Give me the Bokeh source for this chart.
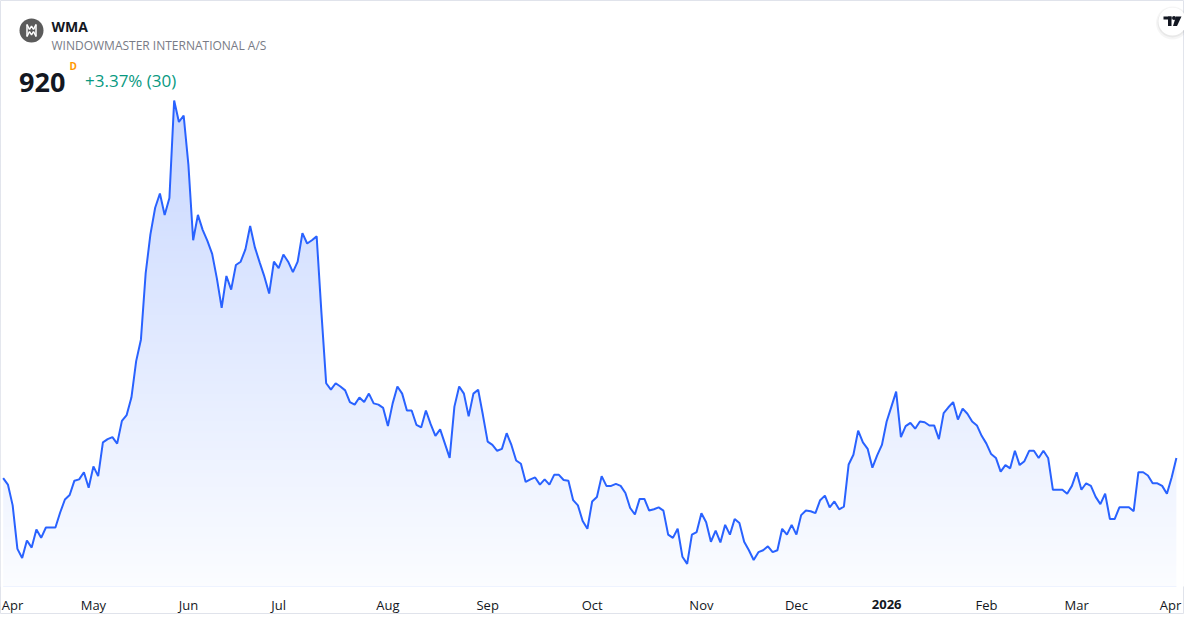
import numpy as np
from bokeh.plotting import figure
from bokeh.models import Range1d
from bokeh.core.properties import value
from bokeh.embed import file_html
from bokeh.resources import INLINE

# ---------------- data ----------------
symbol = "WMA"
company = "WINDOWMASTER INTERNATIONAL A/S"
last_price = "920"
interval_flag = "D"
change_text = "+3.37% (30)"

# daily closes, one per trading session (Apr 2025 -> Apr 2026)
close = [
    889, 879, 847, 780, 766, 793, 782, 810, 797, 813,
    813, 813, 836, 856, 863, 885, 887, 898, 874, 907,
    892, 944, 949, 952, 942, 977, 986, 1013, 1069, 1102,
    1204, 1264, 1305, 1327, 1294, 1320, 1470, 1437, 1447, 1371,
    1255, 1294, 1271, 1254, 1234, 1196, 1151, 1200, 1179, 1217,
    1222, 1241, 1277, 1244, 1221, 1199, 1173, 1222, 1212, 1233,
    1222, 1206, 1222, 1266, 1250, 1255, 1261, 1144, 1035, 1025,
    1035, 1030, 1024, 1006, 1002, 1013, 1006, 1019, 1004, 1002,
    997, 969, 1004, 1030, 1019, 993, 993, 971, 967, 993,
    972, 954, 964, 942, 920, 999, 1030, 1019, 984, 1019,
    1025, 986, 945, 940, 931, 934, 958, 940, 916, 911,
    883, 887, 890, 879, 887, 879, 894, 894, 886, 885,
    855, 847, 823, 811, 853, 860, 892, 877, 877, 880,
    877, 866, 843, 833, 857, 857, 839, 841, 844, 839,
    802, 797, 811, 768, 757, 802, 806, 835, 821, 791,
    808, 790, 817, 802, 826, 820, 791, 778, 763, 775,
    778, 784, 775, 778, 811, 802, 817, 802, 832, 839,
    838, 835, 855, 862, 844, 853, 841, 845, 910, 925,
    962, 944, 934, 905, 924, 940, 976, 999, 1022, 952,
    969, 974, 965, 976, 975, 970, 970, 949, 989, 998,
    1006, 979, 996, 988, 976, 970, 954, 942, 926, 920,
    899, 909, 904, 931, 909, 915, 931, 931, 920, 931,
    920, 871, 871, 871, 865, 877, 898, 871, 881, 877,
    860, 849, 865, 826, 826, 844, 844, 844, 838, 898,
    898, 893, 881, 881, 877, 865, 890, 920,
]

# time-scale labels and the first session of each month
month_labels = ["Apr", "May", "Jun", "Jul", "Aug", "Sep", "Oct",
                "Nov", "Dec", "2026", "Feb", "Mar", "Apr"]
month_label_session = [0, 19, 39, 58, 81, 102, 124, 147, 167, 186, 207, 226, 247]
year_labels = ["2026"]

# ---------------- layout ----------------
W, H = 1184, 614
LEFT_PAD = 2.66          # px from left edge to first session
LAST_PX = 1175.9         # px of last session
FILL_BOTTOM_PX = 586     # bottom of the price pane
Y_TOP = 1624.0           # price at the top edge
PRICE_PER_PX = 1.539
LABEL_HALF_W = 12        # keep time labels inside the edges

FONT = "Open Sans"
BLUE = "#2962ff"
TEXT = "#131722"

n = len(close)
sessions = list(range(n))
px_per = (LAST_PX - LEFT_PAD) / (n - 1)
x0 = -LEFT_PAD / px_per
x1 = x0 + W / px_per
Y_BOTTOM = Y_TOP - H * PRICE_PER_PX


def fx(px):
    return x0 + px / px_per


def fy(py):
    return Y_TOP - py * PRICE_PER_PX


p = figure(width=W, height=H,
           x_range=Range1d(x0, x1), y_range=Range1d(Y_BOTTOM, Y_TOP),
           output_backend="svg", toolbar_location=None,
           x_axis_location=None, y_axis_location=None, min_border=0)
p.background_fill_color = "white"
p.border_fill_color = "white"
p.outline_line_color = "#e0e3eb"
p.outline_line_width = 1
p.xgrid.visible = False
p.ygrid.visible = False

# ---------------- area with vertical fade ----------------
A_TOP, A_BOT = 0.30, 0.02
pane_bottom_price = fy(FILL_BOTTOM_PX)
p.varea(x=sessions, y1=pane_bottom_price, y2=close, fill_color=BLUE, fill_alpha=A_TOP)

# white veil whose opacity grows downwards -> gradient fill
rows = FILL_BOTTOM_PX
img = np.zeros((rows, 2), dtype=np.uint32)
view = img.view(dtype=np.uint8).reshape((rows, 2, 4))
for r in range(rows):
    py = FILL_BOTTOM_PX - (r + 0.5)          # row 0 is at the bottom
    a = A_TOP + (A_BOT - A_TOP) * py / FILL_BOTTOM_PX
    veil = 1.0 - a / A_TOP
    view[r, :, 0] = 255
    view[r, :, 1] = 255
    view[r, :, 2] = 255
    view[r, :, 3] = int(round(255 * veil))
p.image_rgba(image=[img], x=x0, y=pane_bottom_price, dw=x1 - x0, dh=Y_TOP - pane_bottom_price)

p.line(sessions, close, line_color=BLUE, line_width=2)

# ---------------- time scale ----------------
lo, hi = fx(LABEL_HALF_W), fx(W - LABEL_HALF_W - 2)
label_x = [min(max(s, lo), hi) for s in month_label_session]
p.text(x=label_x, y=[fy(604)] * len(month_labels), text=month_labels,
       text_font=value(FONT), text_font_size="13px",
       text_font_style=["bold" if lab in year_labels else "normal" for lab in month_labels],
       text_align="center", text_baseline="middle", text_color=TEXT)

# ---------------- header ----------------
# logo badge
p.scatter(x=[fx(31)], y=[fy(30)], size=24, marker="circle",
          fill_color="#5b5b5b", line_color=None)
mono_x = [[26.5, 26.5], [35.5, 35.5],
          [26.5, 29, 31, 33, 35.5], [26.5, 29, 31, 33, 35.5]]
mono_y = [[24, 36], [24, 36],
          [24, 29, 25.5, 29, 24], [36, 31, 34.5, 31, 36]]
p.multi_line(xs=[[fx(v) for v in xs] for xs in mono_x],
             ys=[[fy(v) for v in ys] for ys in mono_y],
             line_color="white", line_width=1.5)

p.text(x=[fx(51)], y=[fy(26)], text=[symbol], text_baseline="alphabetic",
       text_font=value(FONT), text_font_size="14px", text_font_style="bold",
       text_color=TEXT)
p.text(x=[fx(51)], y=[fy(44.5)], text=[company], text_baseline="alphabetic",
       text_font=value(FONT), text_font_size="12px", text_color="#787b86")
p.text(x=[fx(18.5)], y=[fy(82)], text=[last_price], text_baseline="alphabetic",
       text_font=value(FONT), text_font_size="27px", text_font_style="bold",
       text_color=TEXT)
p.text(x=[fx(69)], y=[fy(65)], text=[interval_flag], text_baseline="alphabetic",
       text_font=value(FONT), text_font_size="10px", text_font_style="bold",
       text_color="#ff9800")
p.text(x=[fx(84.5)], y=[fy(80)], text=[change_text], text_baseline="alphabetic",
       text_font=value(FONT), text_font_size="17px", text_color="#089981")

# TradingView badge (top right)
cx, cy = 1172, 21
p.scatter(x=[fx(cx)], y=[fy(cy + 1.5)], size=33, marker="circle",
          fill_color="black", fill_alpha=0.04, line_color=None)
p.scatter(x=[fx(cx)], y=[fy(cy + 1)], size=30, marker="circle",
          fill_color="black", fill_alpha=0.05, line_color=None)
p.scatter(x=[fx(cx)], y=[fy(cy)], size=28, marker="circle",
          fill_color="white", line_color=None)
shapes = [
    [(-9, -5), (-1, -5), (-1, -2), (-9, -2)],
    [(-4.5, -5), (-1, -5), (-1, 4.5), (-4.5, 4.5)],
    [(3.5, -5), (9, -5), (4.5, 4.5), (0.5, 4.5)],
]
p.patches(xs=[[fx(cx + dx) for dx, dy in s] for s in shapes],
          ys=[[fy(cy + dy) for dx, dy in s] for s in shapes],
          fill_color=TEXT, line_color=None)
p.scatter(x=[fx(cx + 1.5)], y=[fy(cy - 3.5)], size=4, marker="circle",
          fill_color=TEXT, line_color=None)

open("out.html", "w").write(file_html(p, INLINE))
